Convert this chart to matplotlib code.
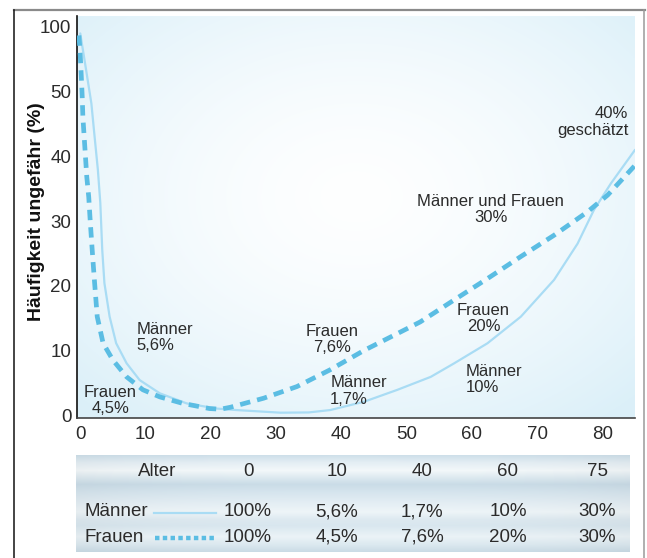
import numpy as np
import matplotlib
matplotlib.use("Agg")
import matplotlib.pyplot as plt
from matplotlib.lines import Line2D

# Curve points (age, prevalence %)
maenner_age = [0, 0.9, 1.7, 2.2, 2.7, 3.07, 3.37, 3.7, 4.5, 5.5, 7.1, 9.1, 12.2,
               16.3, 20.9, 23.9, 30.7, 35, 38.3, 43.5, 48.6, 53.7, 57.3, 62.4,
               67.5, 72.6, 76.2, 78.7, 81.3, 85]
maenner_val = [95, 66.6, 48.2, 43, 37.9, 32.8, 25.5, 20.4, 15.2, 11.1, 8.0, 5.4,
               3.35, 1.8, 1.0, 0.77, 0.36, 0.4, 0.77, 2.06, 3.9, 5.9, 8.0, 11.1,
               15.2, 20.9, 26.5, 31.7, 35.8, 41]
frauen_age = [-0.2, 0, 0.15, 0.3, 0.4, 0.6, 0.8, 1.0, 1.3, 1.5, 1.7, 1.9, 2.2,
              2.6, 3.5, 5.0, 7.1, 9.6, 12.2, 15.7, 19.8, 21.5, 23.0, 28.1, 33.2,
              38.3, 43.5, 48.6, 52.1, 57.3, 62.4, 67.5, 72.6, 77.7, 80.8, 85]
frauen_val = [93.5, 78, 62.6, 49.2, 46.1, 43, 39.9, 36.8, 33.7, 30.4, 27.4, 24.5,
              20.4, 15.2, 11.1, 8.5, 5.9, 3.9, 2.8, 1.8, 1.0, 0.9, 1.2, 2.6, 4.4,
              7.0, 10.0, 12.6, 14.4, 17.8, 21.1, 24.5, 27.8, 31.4, 34.0, 38.6]

y_ticks = [0, 10, 20, 30, 40, 50, 100]
x_ticks = [0, 10, 20, 30, 40, 50, 60, 70, 80]

# annotations: text, x, y, alignment
notes = [
    ("Männer\n5,6%", 8.6, 12.0, "left"),
    ("Frauen\n4,5%", 4.6, 2.2, "center"),
    ("Frauen\n7,6%", 38.6, 11.7, "center"),
    ("Männer\n1,7%", 38.3, 3.7, "left"),
    ("Frauen\n20%", 61.8, 14.9, "center"),
    ("Männer\n10%", 59.0, 5.5, "left"),
    ("Männer und Frauen\n30%", 62.9, 31.8, "center"),
    ("40%\ngeschätzt", 84.0, 45.3, "right"),
]

# table content
table_header = ["Alter", "0", "10", "40", "60", "75"]
table_maenner = ["100%", "5,6%", "1,7%", "10%", "30%"]
table_frauen = ["100%", "4,5%", "7,6%", "20%", "30%"]

SOLID_COLOR = "#a9dcf4"
DASH_COLOR = "#5bbde3"
TEXT_COLOR = "#2b2b2b"
FONT = ["Liberation Sans", "DejaVu Sans"]

plt.rcParams["font.family"] = FONT


def fwd(v):
    v = np.asarray(v, dtype=float)
    return np.where(v <= 50, v, 50 + (v - 50) / 5)


def inv(p):
    p = np.asarray(p, dtype=float)
    return np.where(p <= 50, p, 50 + (p - 50) * 5)


def hex_rgb(h):
    return [int(h[i:i + 2], 16) / 255 for i in (1, 3, 5)]


W, H = 647, 558
fig = plt.figure(figsize=(W / 100, H / 100), dpi=100)

# outer frame
fig.add_artist(Line2D([14 / W, 645 / W], [1 - 10 / H, 1 - 10 / H], color="#8a8a8a", lw=1.6))
fig.add_artist(Line2D([14 / W, 14 / W], [0, 1 - 10 / H], color="#111111", lw=1.1))
fig.add_artist(Line2D([644 / W, 644 / W], [0, 1 - 10 / H], color="#9a9a9a", lw=1.1))

ax = fig.add_axes([77 / W, 1 - 418 / H, (635 - 77) / W, (418 - 16) / H])
ax.set_yscale("function", functions=(fwd, inv))

# radial background
gx, gy = np.meshgrid(np.linspace(0, 1, 300), np.linspace(0, 1, 300))
r = np.sqrt(((gx - 0.5) / 0.75) ** 2 + ((gy - 0.55) / 0.75) ** 2)
r = np.clip(r / 0.95, 0, 1)
c0 = np.array([0.995, 0.998, 1.0])
c1 = np.array([0.86, 0.94, 0.975])
img = c0 + (c1 - c0) * (r ** 1.6)[..., None]
ax.imshow(img, extent=[0, 1, 0, 1], transform=ax.transAxes, aspect="auto",
          zorder=0, origin="lower")

ax.plot(maenner_age, maenner_val, color=SOLID_COLOR, lw=1.6, zorder=2,
        solid_capstyle="round", solid_joinstyle="round")
ax.plot(frauen_age, frauen_val, color=DASH_COLOR, lw=3.4, zorder=3,
        dashes=(2.2, 1.5), dash_capstyle="butt")

for txt, x, y, ha in notes:
    ax.text(x, y, txt, ha=ha, va="center", multialignment=ha, fontsize=12,
            color=TEXT_COLOR, linespacing=1.1, zorder=4)

ax.set_xlim(-0.5, 85)
ax.set_ylim(-0.46, 108.5)
ax.set_xticks(x_ticks)
ax.set_yticks(y_ticks)
ax.set_yticklabels([str(t) for t in y_ticks])
ax.yaxis.set_minor_locator(matplotlib.ticker.NullLocator())
ax.tick_params(length=0, labelsize=13.5, colors=TEXT_COLOR)
ax.tick_params(axis="x", pad=6)
ax.tick_params(axis="y", pad=4)
for s in ["top", "right"]:
    ax.spines[s].set_visible(False)
ax.spines["left"].set_color("#111111")
ax.spines["bottom"].set_color("#444444")
ax.spines["left"].set_linewidth(1.2)
ax.spines["bottom"].set_linewidth(1.2)

fig.text(36.7 / W, 1 - 212 / H, "Häufigkeit ungefähr (%)", rotation=90,
         ha="center", va="center", fontsize=14, fontweight="bold", color="#111111")

# table below the chart
tl, tr, tt, tb = 75.7, 629, 455, 552
tax = fig.add_axes([tl / W, 1 - tb / H, (tr - tl) / W, (tb - tt) / H])
tax.set_xlim(tl, tr)
tax.set_ylim(tb, tt)
tax.axis("off")
stops_y = [455, 462, 470, 478, 484, 492, 503, 512, 520, 526, 537, 545, 552]
stops_c = np.array([hex_rgb(h) for h in [
    "#cfe0ea", "#e4eef4", "#f3f8fa", "#dbe8ef", "#cadce7", "#d6e5ee", "#e4eef4",
    "#eef5f8", "#dde9f0", "#d9e7ef", "#ebf3f7", "#dce9f0", "#cbdce6"]])
ys = np.arange(tt, tb + 1)
col = np.stack([np.interp(ys, stops_y, stops_c[:, k]) for k in range(3)], axis=-1)
edge = np.linspace(-1, 1, 200)
shade = 1 - 0.03 * np.abs(edge) ** 3
tbl_img = col[:, None, :] * shade[None, :, None]
tax.imshow(np.clip(tbl_img, 0, 1), extent=[tl, tr, tb, tt], aspect="auto", zorder=0)

col_x = [157, 248, 337, 422, 508, 597]
row_y = [472, 512, 537]
for x, t in zip(col_x, table_header):
    tax.text(x, row_y[0], t, ha="center", va="center", fontsize=13.5, color=TEXT_COLOR)
for x, t in zip(col_x[1:], table_maenner):
    tax.text(x, row_y[1], t, ha="center", va="center", fontsize=13.5, color=TEXT_COLOR)
for x, t in zip(col_x[1:], table_frauen):
    tax.text(x, row_y[2], t, ha="center", va="center", fontsize=13.5, color=TEXT_COLOR)
tax.text(85, row_y[1], "Männer", ha="left", va="center", fontsize=13.5, color=TEXT_COLOR)
tax.text(85, row_y[2], "Frauen", ha="left", va="center", fontsize=13.5, color=TEXT_COLOR)
tax.plot([154, 216], [row_y[1] + 1, row_y[1] + 1], color=SOLID_COLOR, lw=1.6)
tax.plot([155, 216], [row_y[2] + 1, row_y[2] + 1], color=DASH_COLOR, lw=3.2,
         dashes=(1.0, 0.75), dash_capstyle="butt")

fig.savefig("out.png", dpi=100)
